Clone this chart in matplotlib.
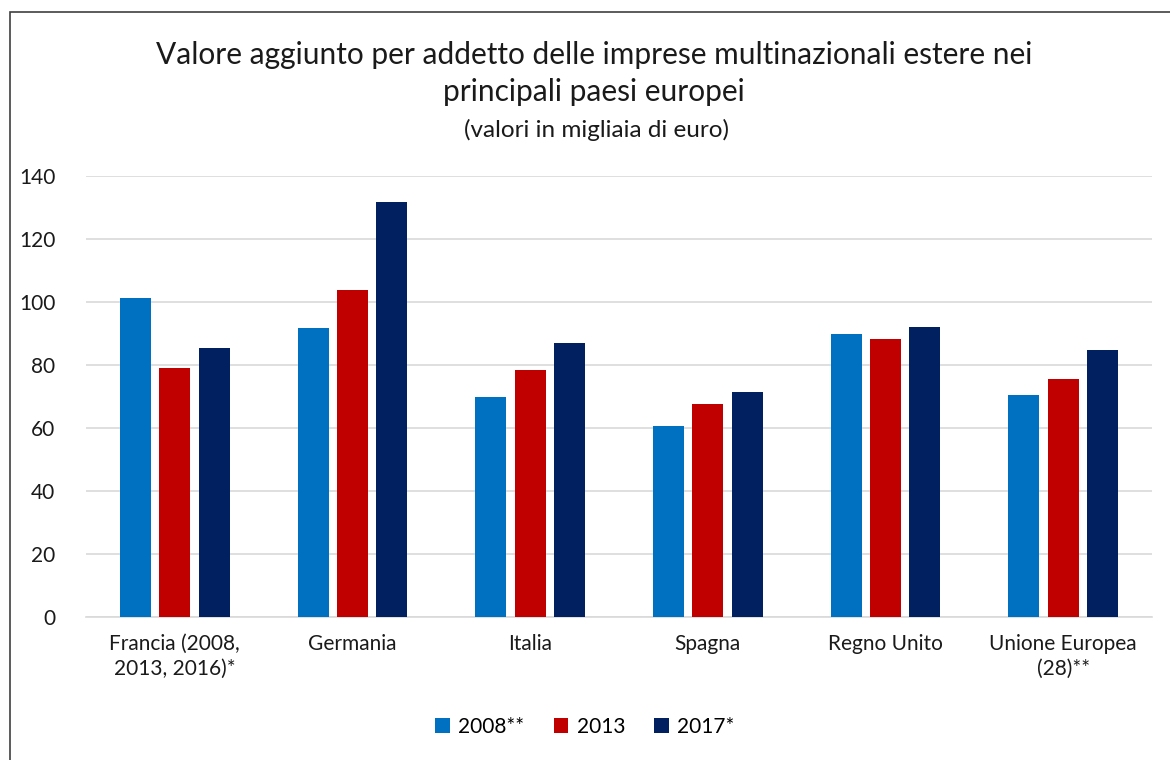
import matplotlib.pyplot as plt
import numpy as np
from matplotlib.patches import Rectangle

categories = [
    "Francia (2008,\n2013, 2016)*",
    "Germania",
    "Italia",
    "Spagna",
    "Regno Unito",
    "Unione Europea\n(28)**",
]
series_labels = ["2008**", "2013", "2017*"]
values_2008 = [101.3, 91.7, 69.8, 60.6, 89.8, 70.5]
values_2013 = [79.0, 103.8, 78.4, 67.6, 88.3, 75.6]
values_2017 = [85.4, 131.7, 87.0, 71.4, 92.1, 84.8]
yticks = [0, 20, 40, 60, 80, 100, 120, 140]

colors = ["#0070C0", "#C00000", "#002060"]


def main():
    plt.rcParams["font.family"] = ["Lato", "DejaVu Sans"]

    fig = plt.figure(figsize=(11.7, 7.6), dpi=100)
    fig.patch.set_facecolor("white")
    ax = fig.add_axes([86 / 1170, 1 - 617 / 760, 1066 / 1170, 441 / 760])

    # outer chart border (only top and left visible in the reference)
    fig.patches.append(
        Rectangle((10 / 1170, -0.1), 1.2, 1 - 12 / 760 + 0.1,
                  transform=fig.transFigure, fill=False,
                  edgecolor="#404040", linewidth=1.2)
    )

    x = np.arange(len(categories))
    width = 0.175
    step = 0.222
    all_values = [values_2008, values_2013, values_2017]
    for i, (vals, lab, col) in enumerate(zip(all_values, series_labels, colors)):
        ax.bar(x + (i - 1) * step, vals, width, color=col, label=lab, zorder=3)

    ax.set_xlim(-0.5, len(categories) - 0.5)
    ax.set_ylim(0, 140)
    ax.set_yticks(yticks)
    ax.set_xticks(x)
    ax.set_xticklabels(categories, fontsize=15, color="#1a1a1a", linespacing=1.3)
    ax.tick_params(axis="y", labelsize=15, colors="#1a1a1a", length=0, pad=22)
    ax.tick_params(axis="x", length=0, pad=12)
    ax.grid(True, axis="y", color="#d9d9d9", linewidth=1.2, zorder=0)
    for spine in ["top", "right", "left"]:
        ax.spines[spine].set_visible(False)
    ax.spines["bottom"].set_color("#d9d9d9")
    ax.spines["bottom"].set_linewidth(1.2)

    fig.text(0.508, 1 - 55 / 760,
             "Valore aggiunto per addetto delle imprese multinazionali estere nei",
             ha="center", va="center", fontsize=21.5, color="#1a1a1a")
    fig.text(0.508, 1 - 92 / 760, "principali paesi europei",
             ha="center", va="center", fontsize=21.5, color="#1a1a1a")
    fig.text(0.51, 1 - 130 / 760, "(valori in migliaia di euro)",
             ha="center", va="center", fontsize=17.5, color="#1a1a1a")

    fig.legend(loc="center", bbox_to_anchor=(0.5, 1 - 727 / 760), ncol=3,
               frameon=False, fontsize=15, handlelength=0.7, handleheight=0.7,
               handletextpad=0.4, columnspacing=1.4)

    fig.savefig("out.png", dpi=100, facecolor="white")
    plt.close(fig)


if __name__ == "__main__":
    main()
